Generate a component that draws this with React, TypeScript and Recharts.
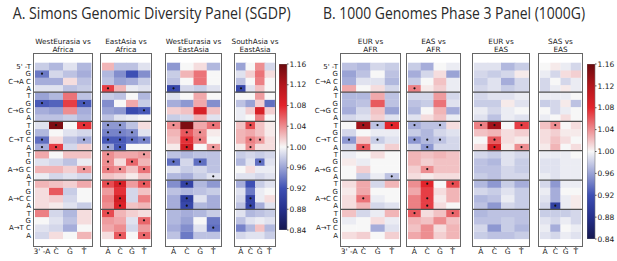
import React from "react";
import { BarChart, Bar, XAxis, YAxis, ReferenceLine } from "recharts";

const fivePrime = ["T", "G", "C", "A"];
const threePrime = ["A", "C", "G", "T"];
const mutations = ["C→A", "C→G", "C→T", "A→G", "A→C", "A→T"];
const cbTicks = [0.84, 0.88, 0.92, 0.96, 1.0, 1.04, 1.08, 1.12, 1.16];

const sgdpTitle = "A. Simons Genomic Diversity Panel (SGDP)";
const kgTitle = "B. 1000 Genomes Phase 3 Panel (1000G)";
const sgdpNames = [["WestEurasia vs", "Africa"], ["EastAsia vs", "Africa"], ["WestEurasia vs", "EastAsia"], ["SouthAsia vs", "EastAsia"]];
const kgNames = [["EUR vs", "AFR"], ["EAS vs", "AFR"], ["EUR vs", "EAS"], ["SAS vs", "EAS"]];

// rows: 6 mutation types x 5' base (T,G,C,A); cols: 3' base (A,C,G,T)
const sgdpWeaAfr = [
  [0.98, 0.97, 0.99, 0.97], [0.94, 0.985, 0.975, 0.965], [0.965, 0.965, 1.01, 0.975], [0.99, 0.99, 0.975, 0.98],
  [0.96, 0.97, 1.05, 0.975], [0.925, 0.93, 1.07, 0.925], [0.965, 0.96, 1.04, 0.965], [0.975, 0.975, 0.98, 0.97],
  [0.99, 1.15, 1.0, 1.075], [0.97, 1.0, 0.99, 0.985], [0.935, 1.01, 0.975, 0.965], [0.965, 1.07, 0.985, 1.015],
  [1.03, 1.0, 1.02, 1.02], [0.99, 0.985, 0.975, 0.995], [1.025, 1.025, 1.015, 1.035], [0.995, 0.985, 0.99, 0.985],
  [1.025, 1.02, 1.015, 1.03], [1.01, 1.06, 0.98, 1.0], [1.01, 1.015, 0.985, 1.0], [1.01, 1.005, 0.99, 0.98],
  [1.045, 0.985, 0.97, 1.01], [1.0, 0.99, 0.975, 1.01], [0.99, 0.985, 0.965, 1.0], [0.985, 1.01, 1.0, 1.025],
];
const sgdpEasAfr = [
  [1.025, 0.975, 0.975, 0.99], [0.97, 0.95, 0.92, 0.95], [0.975, 0.96, 0.965, 0.98], [1.07, 1.025, 0.995, 0.99],
  [0.98, 0.975, 1.0, 0.97], [0.95, 1.0, 1.03, 0.98], [0.96, 0.955, 0.915, 0.925], [0.975, 0.99, 0.995, 1.0],
  [0.955, 0.955, 0.975, 1.01], [0.945, 0.945, 0.95, 0.99], [0.925, 0.925, 0.935, 0.945], [0.96, 0.925, 1.0, 1.0],
  [1.04, 1.03, 1.03, 1.035], [1.04, 1.01, 1.055, 1.025], [1.045, 1.04, 1.02, 1.05], [1.02, 1.015, 1.005, 1.02],
  [1.065, 1.09, 1.035, 1.06], [1.035, 1.075, 0.985, 1.02], [1.045, 1.095, 0.985, 1.045], [1.04, 1.085, 1.02, 1.025],
  [1.065, 1.025, 1.015, 1.01], [1.035, 1.03, 0.99, 1.055], [1.03, 1.04, 0.985, 1.035], [1.01, 1.06, 1.0, 1.055],
];
const sgdpWeaEas = [
  [0.955, 1.0, 1.01, 0.97], [0.98, 1.025, 1.05, 1.0], [0.975, 1.0, 1.05, 1.0], [0.91, 0.985, 0.98, 0.99],
  [0.99, 1.0, 1.03, 1.0], [0.965, 0.955, 1.03, 0.95], [1.015, 1.02, 1.09, 1.02], [0.98, 0.985, 1.025, 0.99],
  [1.04, 1.15, 1.03, 1.05], [1.025, 1.06, 1.04, 1.005], [1.02, 1.075, 1.045, 1.0], [1.005, 1.095, 1.0, 1.035],
  [0.975, 0.97, 0.975, 0.975], [0.935, 0.985, 0.935, 0.975], [0.99, 0.98, 0.985, 0.975], [0.97, 0.965, 0.98, 0.99],
  [0.95, 0.905, 0.97, 0.955], [0.975, 0.97, 0.975, 0.98], [0.965, 0.9, 0.99, 0.965], [0.965, 0.91, 0.97, 0.965],
  [0.97, 0.965, 0.97, 0.98], [0.97, 0.96, 1.0, 0.94], [0.965, 0.95, 0.99, 0.935], [0.975, 0.94, 0.975, 0.975],
];
const sgdpSasEas = [
  [0.96, 1.0, 1.04, 0.985], [0.99, 1.015, 1.05, 1.01], [0.975, 1.0, 1.045, 1.0], [0.91, 0.99, 1.02, 1.0],
  [1.0, 1.0, 1.035, 1.0], [0.975, 0.96, 1.015, 0.935], [0.995, 1.015, 1.09, 1.015], [0.995, 1.0, 1.045, 1.0],
  [1.02, 1.065, 1.02, 1.005], [1.025, 1.03, 1.02, 1.005], [1.025, 1.045, 1.035, 1.01], [1.005, 1.04, 1.01, 1.01],
  [0.98, 0.985, 0.98, 0.985], [0.97, 0.99, 0.935, 0.99], [1.0, 1.01, 0.995, 0.995], [0.99, 0.99, 0.985, 0.99],
  [0.965, 0.92, 0.98, 0.99], [0.99, 0.94, 0.995, 1.0], [0.985, 0.905, 0.995, 1.01], [0.975, 0.905, 0.965, 0.99],
  [0.99, 0.97, 0.975, 0.98], [0.975, 0.99, 0.995, 0.99], [0.945, 0.97, 1.02, 0.97], [0.985, 0.99, 0.99, 0.98],
];
const kgEurAfr = [
  [0.975, 0.97, 0.985, 0.98], [0.96, 0.975, 1.0, 0.975], [0.965, 0.99, 0.99, 0.97], [1.03, 1.0, 1.01, 0.985],
  [0.97, 0.97, 1.03, 0.975], [0.97, 0.975, 1.06, 0.975], [0.965, 0.985, 1.02, 0.96], [0.985, 0.99, 1.015, 0.99],
  [1.0, 1.13, 0.975, 1.08], [0.985, 1.0, 0.995, 0.995], [0.955, 1.02, 0.98, 0.99], [0.985, 1.06, 0.995, 1.015],
  [0.995, 1.0, 1.01, 1.0], [1.005, 0.995, 1.0, 1.0], [1.0, 1.015, 1.0, 1.0], [1.0, 0.98, 0.995, 0.975],
  [1.01, 1.03, 0.985, 1.025], [1.005, 1.03, 1.0, 1.0], [1.01, 1.05, 0.995, 1.0], [1.01, 1.025, 0.985, 0.99],
  [1.02, 0.985, 0.995, 1.025], [0.995, 1.0, 1.01, 0.995], [1.0, 1.0, 0.965, 0.99], [1.01, 1.015, 1.0, 1.015],
];
const kgEasAfr = [
  [0.98, 0.965, 1.0, 0.995], [0.965, 0.985, 1.01, 0.96], [0.98, 1.0, 1.02, 0.995], [1.045, 1.005, 1.015, 0.995],
  [0.985, 0.985, 1.035, 0.985], [0.975, 0.98, 1.05, 0.99], [0.97, 1.0, 1.025, 0.965], [0.99, 1.01, 1.02, 0.995],
  [0.965, 0.975, 0.975, 1.01], [0.98, 0.97, 0.985, 0.99], [0.955, 0.97, 0.975, 0.985], [0.985, 0.955, 0.985, 0.985],
  [1.025, 1.02, 1.025, 1.02], [1.025, 1.015, 1.02, 1.02], [1.015, 1.04, 1.02, 1.02], [1.01, 1.005, 1.01, 1.01],
  [1.04, 1.08, 1.0, 1.065], [1.03, 1.07, 1.01, 1.025], [1.045, 1.07, 1.005, 1.025], [1.045, 1.07, 1.01, 1.0],
  [1.06, 1.01, 1.02, 1.055], [1.025, 1.02, 1.04, 1.02], [1.02, 1.04, 1.01, 1.025], [1.03, 1.04, 1.015, 1.025],
];
const kgEurEas = [
  [0.99, 0.99, 0.97, 0.98], [0.985, 0.98, 0.985, 1.005], [0.98, 0.99, 0.965, 0.985], [0.985, 0.99, 0.98, 0.985],
  [0.985, 0.99, 0.99, 0.995], [0.98, 0.98, 1.005, 0.99], [0.995, 0.985, 0.995, 1.0], [0.99, 0.975, 0.995, 0.99],
  [1.045, 1.13, 1.0, 1.07], [1.02, 1.025, 1.01, 1.015], [1.0, 1.06, 1.01, 1.005], [1.01, 1.09, 1.005, 1.04],
  [0.985, 0.98, 0.99, 0.985], [0.975, 0.97, 0.99, 0.98], [0.975, 0.975, 0.985, 0.98], [0.98, 0.975, 0.985, 0.985],
  [0.97, 0.955, 0.98, 0.965], [0.985, 0.98, 0.99, 0.98], [0.97, 0.975, 0.995, 0.98], [0.975, 0.955, 0.985, 0.98],
  [0.97, 0.975, 0.975, 0.975], [0.975, 0.975, 0.98, 0.975], [0.985, 0.955, 0.98, 0.97], [0.98, 0.975, 0.975, 0.98],
];
const kgSasEas = [
  [1.0, 1.005, 0.995, 0.985], [0.995, 0.985, 1.01, 1.015], [0.985, 1.0, 0.985, 0.995], [0.985, 0.995, 1.005, 0.995],
  [0.995, 0.995, 0.995, 1.0], [0.98, 0.985, 1.005, 0.975], [1.0, 0.985, 0.995, 1.0], [0.995, 1.0, 1.01, 1.0],
  [1.02, 1.04, 1.0, 1.01], [1.01, 1.015, 1.005, 1.005], [1.01, 1.02, 1.01, 1.0], [1.005, 1.025, 1.0, 1.01],
  [0.995, 0.995, 0.995, 1.0], [0.99, 0.99, 0.995, 0.995], [0.99, 0.99, 0.995, 0.995], [0.995, 0.99, 0.995, 0.995],
  [0.985, 0.955, 0.995, 0.995], [0.995, 0.965, 1.0, 1.0], [0.99, 0.965, 0.995, 1.005], [0.985, 0.9, 0.995, 1.005],
  [0.98, 0.98, 0.98, 0.985], [0.99, 0.985, 0.995, 0.985], [0.995, 0.965, 1.0, 0.995], [0.99, 0.985, 0.995, 0.99],
];

// significant cells [row, col]
const sgdpWeaAfrSig = [[1, 0], [5, 0], [5, 3], [8, 1], [8, 3], [10, 0], [10, 3], [11, 0], [11, 1], [14, 3]];
const sgdpEasAfrSig = [
  [3, 0], [6, 3], [8, 0], [8, 1], [9, 0], [9, 1], [9, 2], [10, 0], [10, 1], [10, 2], [10, 3], [11, 0], [11, 1],
  [12, 0], [12, 3], [13, 0], [13, 2], [14, 0], [14, 1], [14, 3], [16, 0], [16, 1], [16, 3], [18, 1], [19, 1],
  [20, 0], [21, 3], [23, 1], [23, 3],
];
const sgdpWeaEasSig = [[3, 0], [8, 0], [8, 3], [9, 1], [9, 2], [10, 1], [10, 2], [11, 1], [11, 3], [13, 0], [13, 2], [15, 3], [16, 1], [18, 1], [19, 1], [22, 3]];
const sgdpSasEasSig = [[3, 0], [8, 1], [10, 1], [10, 2], [11, 1], [13, 2], [18, 1], [19, 1]];
const kgEurAfrSig = [[8, 1], [8, 2], [8, 3], [10, 0], [10, 2], [11, 1], [15, 3], [18, 1]];
const kgEasAfrSig = [[3, 0], [8, 0], [8, 2], [10, 0], [10, 1], [10, 2], [11, 1], [14, 1], [16, 1], [16, 3], [18, 1], [19, 1], [20, 0], [20, 3]];
const kgEurEasSig = [[8, 0], [8, 1], [8, 3], [10, 1], [11, 1], [11, 3]];
const kgSasEasSig = [[8, 1], [19, 1]];

const cmap: [number, number[]][] = [
  [0.84, [21, 24, 79]],
  [0.88, [37, 48, 140]],
  [0.92, [61, 79, 180]],
  [1.0, [247, 247, 247]],
  [1.08, [227, 36, 43]],
  [1.12, [179, 22, 28]],
  [1.16, [107, 10, 14]],
];

const rgb = (c: number[]) => `rgb(${c.map((v) => Math.round(v)).join(",")})`;

function colorFor(v: number) {
  if (v <= cmap[0][0]) return rgb(cmap[0][1]);
  for (let i = 1; i < cmap.length; i++) {
    const [v1, c1] = cmap[i];
    const [v0, c0] = cmap[i - 1];
    if (v <= v1) {
      const t = (v - v0) / (v1 - v0);
      return rgb(c0.map((c, k) => c + t * (c1[k] - c)));
    }
  }
  return rgb(cmap[cmap.length - 1][1]);
}

const NB = "\u00a0";
const rowLabel = (r: number) => {
  const base = fivePrime[r % 4];
  if (r === 0) return "5'" + NB + "-" + base;
  if (r % 4 === 2) return mutations[Math.floor(r / 4)] + NB + base;
  return base;
};

const FRAME_TOP = 53;
const FRAME_H = 194;
const tickFont = { fontSize: 7.5, fill: "#222", fontFamily: "DejaVu Sans" };

function Heatmap({ values, sig, left, width, first }: any) {
  const yw = first ? 40 : 0;
  const sigSet = new Set(sig.map(([r, c]: number[]) => r + "-" + c));
  const data = threePrime.map((b) => {
    const d: Record<string, string | number> = { col: b };
    values.forEach((_: any, r: number) => (d["r" + r] = 1));
    return d;
  });
  const rows = values.map((_: any, r: number) => r).reverse();
  const cell = (row: number) => (p: any) => {
    const c = threePrime.indexOf(p.payload.col);
    const v = values[row][c];
    return (
      <g>
        <rect x={p.x} y={p.y} width={p.width + 0.4} height={p.height + 0.4} fill={colorFor(v)} />
        {sigSet.has(row + "-" + c) && (
          <circle cx={p.x + p.width / 2} cy={p.y + p.height / 2} r={1.1} fill="#111" />
        )}
      </g>
    );
  };
  return (
    <>
      <div style={{ position: "absolute", left: left + 1 - yw, top: FRAME_TOP + 1 }}>
        <BarChart
          width={width - 2 + yw}
          height={FRAME_H - 2 + 12}
          data={data}
          margin={{ top: 0, right: 0, bottom: 0, left: 0 }}
          barCategoryGap={0}
          barGap={0}
        >
          <XAxis
            dataKey="col"
            interval={0}
            height={12}
            tickSize={2}
            tickMargin={1}
            axisLine={false}
            tickLine={{ stroke: "#555" }}
            padding={{ left: 1, right: 1 }}
            tick={tickFont}
            tickFormatter={(v: string) => (first && v === "A" ? "3'" + NB + "-A" : v)}
          />
          <XAxis
            xAxisId="top"
            orientation="top"
            dataKey="col"
            mirror
            interval={0}
            height={0}
            tickSize={2}
            axisLine={false}
            tickLine={{ stroke: "#666" }}
            padding={{ left: 1, right: 1 }}
            tick={false}
          />
          <YAxis
            type="number"
            domain={[0, 24]}
            ticks={values.map((_: any, r: number) => r + 0.5)}
            interval={0}
            hide={!first}
            width={yw}
            tickLine={false}
            axisLine={false}
            tickSize={0}
            tickMargin={3}
            padding={{ top: 8.7, bottom: 7.3 }}
            tick={{ ...tickFont, fontSize: 7 }}
            tickFormatter={(v: number) => rowLabel(Math.round(23.5 - v))}
          />
          {rows.map((r: number) => (
            <Bar key={r} dataKey={"r" + r} stackId="s" isAnimationActive={false} shape={cell(r)} />
          ))}
          {[4, 8, 12, 16, 20].map((b) => (
            <ReferenceLine key={b} y={24 - b} stroke="#505050" strokeWidth={1.2} />
          ))}
        </BarChart>
      </div>
      <div
        style={{
          position: "absolute",
          left,
          top: FRAME_TOP,
          width,
          height: FRAME_H,
          border: "1px solid #666",
          boxSizing: "border-box",
          pointerEvents: "none",
        }}
      />
    </>
  );
}

function ColorBar({ id, left, top, height }: any) {
  const bar = [{ k: "cb", range: [cbTicks[0], cbTicks[cbTicks.length - 1]] }];
  return (
    <div style={{ position: "absolute", left, top: top - 5 }}>
      <BarChart
        width={8 + 26}
        height={height + 10}
        data={bar}
        margin={{ top: 5, bottom: 5, left: 0, right: 0 }}
        barCategoryGap={0}
      >
        <defs>
          <linearGradient id={id} x1="0" y1="1" x2="0" y2="0">
            {cmap.map(([v, c]) => (
              <stop key={v} offset={(v - 0.84) / 0.32} stopColor={rgb(c)} />
            ))}
          </linearGradient>
        </defs>
        <XAxis dataKey="k" hide />
        <YAxis
          orientation="right"
          type="number"
          domain={[0.84, 1.16]}
          allowDataOverflow
          ticks={cbTicks}
          interval={0}
          width={26}
          tickSize={1.5}
          tickMargin={1}
          axisLine={false}
          tickLine={{ stroke: "#555" }}
          tick={tickFont}
          tickFormatter={(v: number) => v.toFixed(2)}
        />
        <Bar dataKey="range" fill={`url(#${id})`} stroke="#777" strokeWidth={0.6} isAnimationActive={false} />
      </BarChart>
    </div>
  );
}

const sgdpFrames = [
  { left: 33, width: 60 },
  { left: 100, width: 52 },
  { left: 165, width: 57 },
  { left: 234, width: 42 },
];
const kgFrames = [
  { left: 340, width: 61 },
  { left: 406, width: 55 },
  { left: 472, width: 58 },
  { left: 538, width: 45 },
];

export default function App() {
  const sgdp = [sgdpWeaAfr, sgdpEasAfr, sgdpWeaEas, sgdpSasEas];
  const sgdpSig = [sgdpWeaAfrSig, sgdpEasAfrSig, sgdpWeaEasSig, sgdpSasEasSig];
  const kg = [kgEurAfr, kgEasAfr, kgEurEas, kgSasEas];
  const kgSig = [kgEurAfrSig, kgEasAfrSig, kgEurEasSig, kgSasEasSig];
  const subtitles = [
    ...sgdpFrames.map((f, i) => ({ f, n: sgdpNames[i] })),
    ...kgFrames.map((f, i) => ({ f, n: kgNames[i] })),
  ];
  return (
    <div style={{ position: "absolute", left: 0, top: 0, width: 617, height: 261, background: "#fff", overflow: "hidden" }}>
      <svg width={617} height={261} style={{ position: "absolute", left: 0, top: 0 }}>
        <text x={12.7} y={18.5} fontFamily="Open Sans" fontSize={15.6} fill="#2a2a2a" textLength={278} lengthAdjust="spacingAndGlyphs">
          {sgdpTitle}
        </text>
        <text x={323} y={18.5} fontFamily="Open Sans" fontSize={15.6} fill="#2a2a2a" textLength={262} lengthAdjust="spacingAndGlyphs">
          {kgTitle}
        </text>
        {subtitles.map(({ f, n }, i) => (
          <text key={i} textAnchor="middle" fontFamily="DejaVu Sans" fontSize={7.3} fill="#222">
            <tspan x={f.left + f.width / 2} y={43.5}>{n[0]}</tspan>
            <tspan x={f.left + f.width / 2} y={51.5}>{n[1]}</tspan>
          </text>
        ))}
      </svg>
      {sgdp.map((v, i) => (
        <Heatmap key={"a" + i} values={v} sig={sgdpSig[i]} left={sgdpFrames[i].left} width={sgdpFrames[i].width} first={i === 0} />
      ))}
      {kg.map((v, i) => (
        <Heatmap key={"b" + i} values={v} sig={kgSig[i]} left={kgFrames[i].left} width={kgFrames[i].width} first={i === 0} />
      ))}
      <ColorBar id="cbA" left={279} top={64} height={166} />
      <ColorBar id="cbB" left={587} top={64} height={175} />
    </div>
  );
}
